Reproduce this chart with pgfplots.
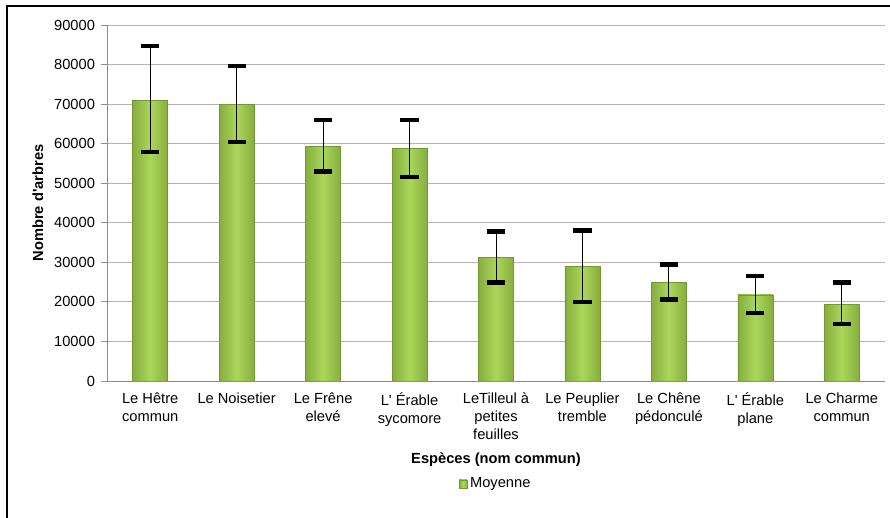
\documentclass[border=0pt]{standalone}
\usepackage{pgfplots}
\pgfplotsset{compat=1.18}
\usepackage{fontspec}
\setmainfont{Liberation Sans}
\definecolor{barmid}{HTML}{AAD75A}
\definecolor{baredge}{HTML}{86AE3E}
\definecolor{barline}{HTML}{739934}
\definecolor{gridc}{HTML}{B3B3B3}
\definecolor{axisc}{HTML}{8C8C8C}
\pgfplotsset{
  treebar/.style={ybar, bar width=26.25pt, bar shift=0pt, draw=barline, line width=0.4pt,
    left color=baredge, right color=baredge, middle color=barmid,
    error bars/.cd, y dir=both, y explicit,
    error bar style={black, line width=0.6pt},
    error mark options={black, line width=3.4pt, mark size=6.8pt, rotate=90},
    /pgfplots/.cd},
}
\newcommand{\q}{\textquotesingle}
\begin{document}
\begin{tikzpicture}
\useasboundingbox (0,0) rectangle (667.5pt,388.5pt);
\draw[line width=1.5pt] (5.25pt,-2pt) -- (5.25pt,384pt) -- (670pt,384pt);
\begin{axis}[
  at={(80.25pt,102.75pt)}, anchor=south west,
  scale only axis, width=583.5pt, height=267pt,
  xmin=-0.5, xmax=8.5, ymin=0, ymax=90000,
  ytick distance=10000,
  scaled y ticks=false,
  /pgf/number format/.cd, set thousands separator={}, assume math mode=true, /pgfplots/.cd,
  axis x line*=bottom, axis y line*=left,
  axis line style={axisc, line width=0.6pt, -},
  ymajorgrids, grid style={gridc, line width=0.6pt},
  ytick style={axisc, line width=0.6pt},
  tick align=outside, major tick length=4.5pt,
  xtick={0,...,8},
  xticklabels={Le Hêtre\\commun, Le Noisetier, Le Frêne\\elevé, L\q{} Érable\\sycomore, LeTilleul à\\petites\\feuilles, Le Peuplier\\tremble, Le Chêne\\pédonculé, L\q{} Érable\\plane, Le Charme\\commun},
  xtick style={draw=none},
  extra x ticks={-0.5,0.5,...,8.5},
  extra x tick labels={},
  extra x tick style={xtick style={axisc, line width=0.6pt}, major tick length=4pt, grid=none},
  x tick label style={align=center, font=\fontsize{11}{13.5}\selectfont, yshift=-1pt},
  y tick label style={font=\fontsize{11}{12}\selectfont, xshift=-1pt},
  xlabel={\textbf{Espèces (nom commun)}},
  ylabel={\textbf{Nombre d\q{}arbres}},
  xlabel style={at={(axis description cs:0.5,-0.222)}, anchor=center, font=\fontsize{11}{12}\selectfont},
  ylabel style={at={(axis description cs:-0.0887,0.5)}, anchor=center, font=\fontsize{11}{12}\selectfont},
  legend style={at={(axis description cs:0.5,-0.289)}, anchor=center, draw=none, fill=none, font=\fontsize{11}{12}\selectfont, inner sep=1pt},
  legend cell align=left,
]
\addplot[treebar, legend image code/.code={\draw[fill=barmid, draw=barline, line width=0.4pt] (0pt,-3pt) rectangle (6pt,3pt);}]
  coordinates {(0,71000) += (0,13700) -= (0,13100)};
\addlegendentry{Moyenne}
\addplot[treebar, forget plot] coordinates {(1,70000) += (0,9600) -= (0,9600)};
\addplot[treebar, forget plot] coordinates {(2,59300) += (0,6700) -= (0,6400)};
\addplot[treebar, forget plot] coordinates {(3,58800) += (0,7200) -= (0,7200)};
\addplot[treebar, forget plot] coordinates {(4,31200) += (0,6550) -= (0,6350)};
\addplot[treebar, forget plot] coordinates {(5,29000) += (0,9100) -= (0,9000)};
\addplot[treebar, forget plot] coordinates {(6,25000) += (0,4500) -= (0,4350)};
\addplot[treebar, forget plot] coordinates {(7,21750) += (0,4750) -= (0,4500)};
\addplot[treebar, forget plot] coordinates {(8,19450) += (0,5400) -= (0,5050)};
\end{axis}
\end{tikzpicture}
\end{document}
